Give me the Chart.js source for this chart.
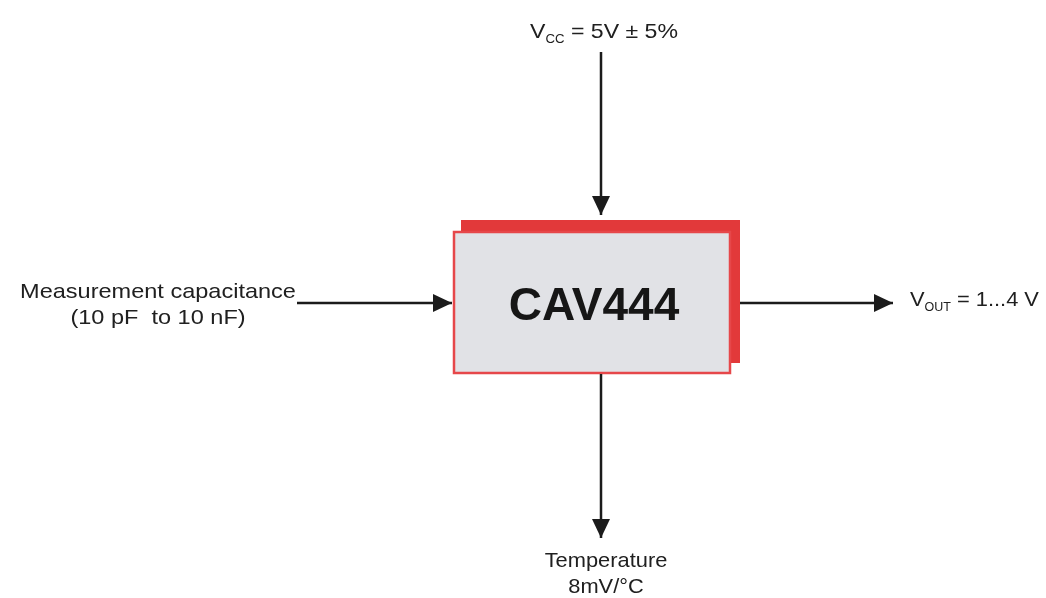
<!DOCTYPE html>
<html>
<head>
<meta charset="utf-8">
<script src="https://cdn.jsdelivr.net/npm/chart.js@4.4.1/dist/chart.umd.min.js"></script>
<style>
  html, body { margin: 0; padding: 0; background: #ffffff; }
  #wrap { width: 1046px; height: 598px; }
</style>
</head>
<body>
<div id="wrap"><canvas id="c" width="1046" height="598"></canvas></div>
<script>
// ---- Diagram content (coordinates in the chart's own x/y units) ----
const blockName = 'CAV444';
// arrows: start and end points (arrow head at end)
const arrowNames = ['Vcc', 'Measurement', 'Vout', 'Temperature'];
const arrowX0 = [601, 297, 740, 601];
const arrowY0 = [52, 303, 303, 374];
const arrowX1 = [601, 452, 893, 601];
const arrowY1 = [215, 303, 303, 538];
// block rectangles [x0, y0, x1, y1]
const backRect = [461, 220, 740, 363];
const frontRect = [454, 232, 730, 373];
// labels: each as list of lines, each line a list of [text, isSubscript]
const labelTexts = [
  [[['V', 0], ['CC', 1], [' = 5V ± 5%', 0]]],
  [[['Measurement capacitance', 0]], [['(10 pF  to 10 nF)', 0]]],
  [[['V', 0], ['OUT', 1], [' = 1...4 V', 0]]],
  [[['Temperature', 0]], [['8mV/°C', 0]]]
];
const labelX = [604, 158, 910, 606];
const labelY = [38, 298, 306, 567];
const labelAlign = ['center', 'center', 'left', 'center'];
const labelStretch = [1.1, 1.12, 1.04, 1.04];

const FONT = '"Liberation Sans", Arial, sans-serif';
const INK = '#1b1b1b';
const RED = '#e2393a';

const datasets = arrowNames.map((n, i) => ({
  label: n,
  data: [{x: arrowX0[i], y: arrowY0[i]}, {x: arrowX1[i], y: arrowY1[i]}],
  showLine: true,
  borderColor: INK,
  borderWidth: 2.5,
  pointRadius: 0,
  order: 1
}));

const diagramPlugin = {
  id: 'diagram',
  beforeDatasetsDraw(chart) {
    const {ctx, scales: {x, y}} = chart;
    ctx.save();
    ctx.fillStyle = '#ffffff';
    ctx.fillRect(0, 0, chart.width, chart.height);
    const bx0 = x.getPixelForValue(backRect[0]), by0 = y.getPixelForValue(backRect[1]);
    const bx1 = x.getPixelForValue(backRect[2]), by1 = y.getPixelForValue(backRect[3]);
    ctx.fillStyle = RED;
    ctx.fillRect(bx0, by0, bx1 - bx0, by1 - by0);
    const fx0 = x.getPixelForValue(frontRect[0]), fy0 = y.getPixelForValue(frontRect[1]);
    const fx1 = x.getPixelForValue(frontRect[2]), fy1 = y.getPixelForValue(frontRect[3]);
    ctx.fillStyle = '#e1e2e6';
    ctx.fillRect(fx0, fy0, fx1 - fx0, fy1 - fy0);
    ctx.strokeStyle = '#e6474a';
    ctx.lineWidth = 2.5;
    ctx.strokeRect(fx0, fy0, fx1 - fx0, fy1 - fy0);
    ctx.restore();
  },
  afterDatasetsDraw(chart) {
    const {ctx, scales: {x, y}} = chart;
    ctx.save();
    ctx.fillStyle = INK;
    for (let i = 0; i < arrowNames.length; i++) {
      const sx = x.getPixelForValue(arrowX0[i]), sy = y.getPixelForValue(arrowY0[i]);
      const ex = x.getPixelForValue(arrowX1[i]), ey = y.getPixelForValue(arrowY1[i]);
      const ang = Math.atan2(ey - sy, ex - sx);
      const L = 19, W = 9;
      ctx.beginPath();
      ctx.moveTo(ex, ey);
      ctx.lineTo(ex - L * Math.cos(ang) - W * Math.sin(ang), ey - L * Math.sin(ang) + W * Math.cos(ang));
      ctx.lineTo(ex - L * Math.cos(ang) + W * Math.sin(ang), ey - L * Math.sin(ang) - W * Math.cos(ang));
      ctx.closePath();
      ctx.fill();
    }
    const cx = x.getPixelForValue((frontRect[0] + frontRect[2]) / 2);
    const cy = y.getPixelForValue((frontRect[1] + frontRect[3]) / 2);
    ctx.fillStyle = '#161616';
    ctx.font = 'bold 46px ' + FONT;
    ctx.textAlign = 'center';
    ctx.textBaseline = 'alphabetic';
    ctx.fillText(blockName, cx + 2, cy + 17);
    const main = 21, sub = 12, lineGap = 26;
    ctx.fillStyle = '#202020';
    labelTexts.forEach((lines, i) => {
      const k = labelStretch[i];
      lines.forEach((parts, li) => {
        let w = 0;
        parts.forEach(([t, s]) => { ctx.font = (s ? sub : main) + 'px ' + FONT; w += ctx.measureText(t).width; });
        w *= k;
        const px = x.getPixelForValue(labelX[i]);
        const py = y.getPixelForValue(labelY[i]) + li * lineGap;
        let cur = labelAlign[i] === 'center' ? px - w / 2 : px;
        ctx.save();
        ctx.translate(cur, py);
        ctx.scale(k, 1);
        ctx.textAlign = 'left';
        let c = 0;
        parts.forEach(([t, s]) => {
          ctx.font = (s ? sub : main) + 'px ' + FONT;
          ctx.fillText(t, c, s ? 5 : 0);
          c += ctx.measureText(t).width;
        });
        ctx.restore();
      });
    });
    ctx.restore();
  }
};

new Chart(document.getElementById('c'), {
  type: 'scatter',
  data: { datasets },
  options: {
    responsive: false,
    animation: false,
    layout: { padding: 0 },
    plugins: { legend: { display: false }, tooltip: { enabled: false } },
    scales: {
      x: { type: 'linear', min: 0, max: 1046, display: false },
      y: { type: 'linear', min: 0, max: 598, reverse: true, display: false }
    }
  },
  plugins: [diagramPlugin]
});
</script>
</body>
</html>
